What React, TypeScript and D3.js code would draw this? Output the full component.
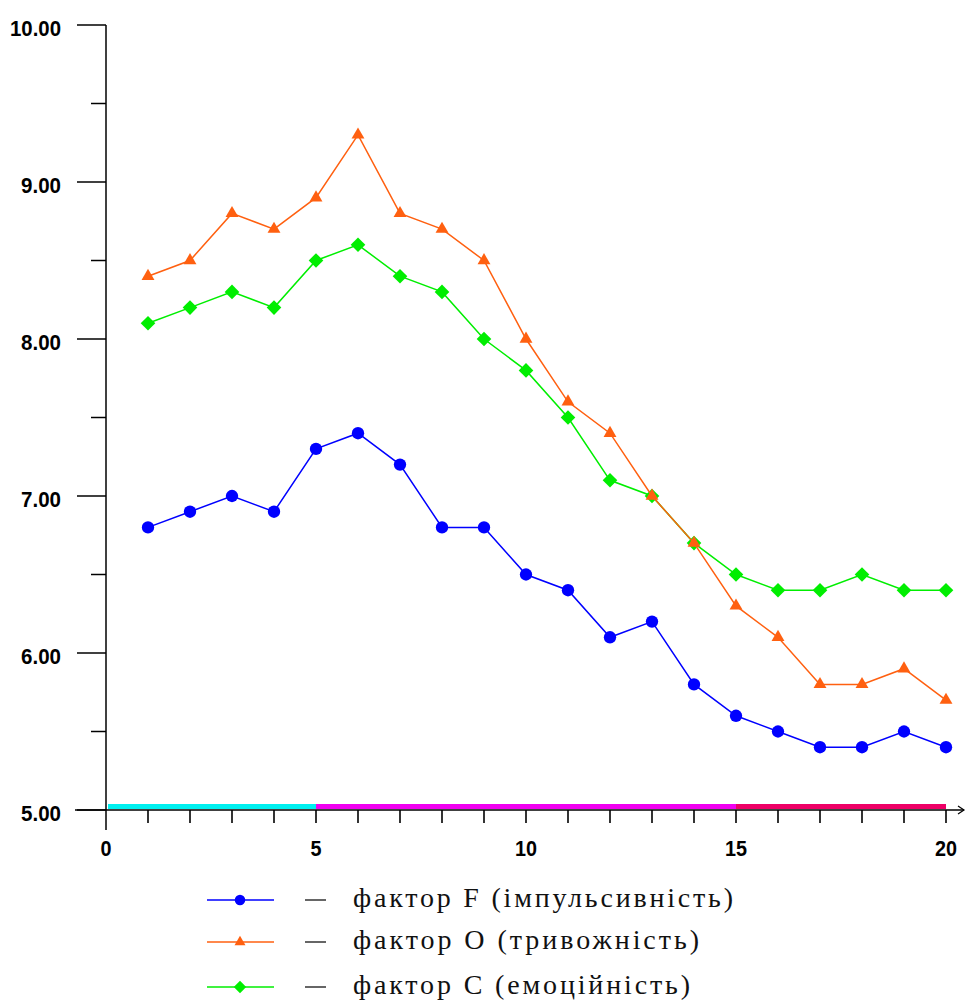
import React from "react";
import * as d3 from "d3";

const xValues = [1, 2, 3, 4, 5, 6, 7, 8, 9, 10, 11, 12, 13, 14, 15, 16, 17, 18, 19, 20];
const factorF = [6.8, 6.9, 7.0, 6.9, 7.3, 7.4, 7.2, 6.8, 6.8, 6.5, 6.4, 6.1, 6.2, 5.8, 5.6, 5.5, 5.4, 5.4, 5.5, 5.4];
const factorO = [8.4, 8.5, 8.8, 8.7, 8.9, 9.3, 8.8, 8.7, 8.5, 8.0, 7.6, 7.4, 7.0, 6.7, 6.3, 6.1, 5.8, 5.8, 5.9, 5.7];
const factorC = [8.1, 8.2, 8.3, 8.2, 8.5, 8.6, 8.4, 8.3, 8.0, 7.8, 7.5, 7.1, 7.0, 6.7, 6.5, 6.4, 6.4, 6.5, 6.4, 6.4];

const yMajorTicks = [5, 6, 7, 8, 9, 10];
const yMinorTicks = [5.5, 6.5, 7.5, 8.5, 9.5];
const xTicks = d3.range(0, 21);
const xTickLabels = [0, 5, 10, 15, 20];

const bandStarts = [0, 5, 15];
const bandEnds = [5, 15, 20];
const bandColors = ["#00f0f0", "#f000f0", "#ee0066"];

const legendLabels = [
  "фактор F (імпульсивність)",
  "фактор O (тривожність)",
  "фактор C (емоційність)",
];

type Series = { values: number[]; color: string; marker: "circle" | "triangle" | "diamond" };

const series: Series[] = [
  { values: factorF, color: "#0000ff", marker: "circle" },
  { values: factorC, color: "#00ee00", marker: "diamond" },
  { values: factorO, color: "#ff6010", marker: "triangle" },
];

const legendOrder = [0, 2, 1];
const legendTextWidths = [380, 346, 337];

function markerPath(kind: string, scale = 1): string {
  if (kind === "circle") return d3.symbol(d3.symbolCircle, 120 * scale * scale)()!;
  if (kind === "triangle") return d3.symbol(d3.symbolTriangle, 72 * scale * scale)()!;
  const r = 7.3 * scale;
  return `M0,${-r}L${r},0L0,${r}L${-r},0Z`;
}

function labelWidth(s: string): number {
  let w = 0;
  for (const ch of s) w += ch === "." ? 7 : 11;
  return w;
}

export default function App() {
  const width = 969;
  const height = 1001;
  const x = d3.scaleLinear().domain([0, 20]).range([106, 946]);
  const y = d3.scaleLinear().domain([5, 10]).range([810, 25]);
  const line = d3
    .line<number>()
    .x((_, i) => x(xValues[i]))
    .y((d) => y(d));

  const tickFont = {
    fontFamily: "'Liberation Sans', Arial, sans-serif",
    fontWeight: 700,
    fontSize: 22,
    lengthAdjust: "spacingAndGlyphs",
  } as const;

  return (
    <svg
      width={width}
      height={height}
      style={{ position: "absolute", left: 0, top: 0, background: "#fff" }}
    >
      {/* colored band over x axis */}
      {bandStarts.map((s, i) => (
        <rect
          key={"b" + i}
          x={x(s) + (i === 0 ? 2 : 0)}
          y={804}
          width={x(bandEnds[i]) - x(s) - (i === 0 ? 2 : 0)}
          height={5}
          fill={bandColors[i]}
        />
      ))}

      {/* Y axis */}
      <line x1={106} x2={106} y1={y(10)} y2={830} stroke="#000" strokeWidth={1.5} />
      {yMajorTicks.map((t) => {
        const label = t.toFixed(2);
        const w = labelWidth(label);
        return (
          <g key={"ym" + t}>
            <line x1={77} x2={106} y1={y(t)} y2={y(t)} stroke="#000" strokeWidth={1.5} />
            <text x={61 - w} y={y(t) + 11} textLength={w} {...tickFont}>
              {label}
            </text>
          </g>
        );
      })}
      {yMinorTicks.map((t) => (
        <line key={"yn" + t} x1={91} x2={106} y1={y(t)} y2={y(t)} stroke="#000" strokeWidth={1.5} />
      ))}

      {/* X axis */}
      <line x1={75} x2={964} y1={810} y2={810} stroke="#000" strokeWidth={1.5} />
      <path d="M958,806 L964,810 L958,814" fill="none" stroke="#000" strokeWidth={1.2} />
      {xTicks.map((t) =>
        t === 0 ? null : (
          <line key={"xt" + t} x1={x(t)} x2={x(t)} y1={810} y2={823} stroke="#000" strokeWidth={1.6} />
        )
      )}
      {xTickLabels.map((t) => {
        const label = String(t);
        const w = labelWidth(label);
        return (
          <text key={"xl" + t} x={x(t) - w / 2} y={856} textLength={w} {...tickFont}>
            {label}
          </text>
        );
      })}

      {/* series */}
      {series.map((s, si) => (
        <g key={"s" + si}>
          <path d={line(s.values)!} fill="none" stroke={s.color} strokeWidth={1.5} />
          {s.values.map((v, i) => (
            <path
              key={i}
              d={markerPath(s.marker)}
              transform={`translate(${x(xValues[i])},${y(v)})`}
              fill={s.color}
            />
          ))}
        </g>
      ))}

      {/* legend */}
      {legendOrder.map((si, row) => {
        const s = series[si];
        const ly = [900, 942, 987][row];
        return (
          <g key={"lg" + row}>
            <line x1={207} x2={274} y1={ly} y2={ly} stroke={s.color} strokeWidth={1.6} />
            <path d={markerPath(s.marker, 0.85)} transform={`translate(240,${ly})`} fill={s.color} />
            <line x1={305} x2={326} y1={ly} y2={ly} stroke="#333" strokeWidth={1.5} />
            <text
              x={353}
              y={ly + 7}
              fontFamily="'Liberation Serif', 'Times New Roman', serif"
              fontSize={28}
              fill="#111"
              textLength={legendTextWidths[row]}
              lengthAdjust="spacing"
            >
              {legendLabels[row]}
            </text>
          </g>
        );
      })}
    </svg>
  );
}
